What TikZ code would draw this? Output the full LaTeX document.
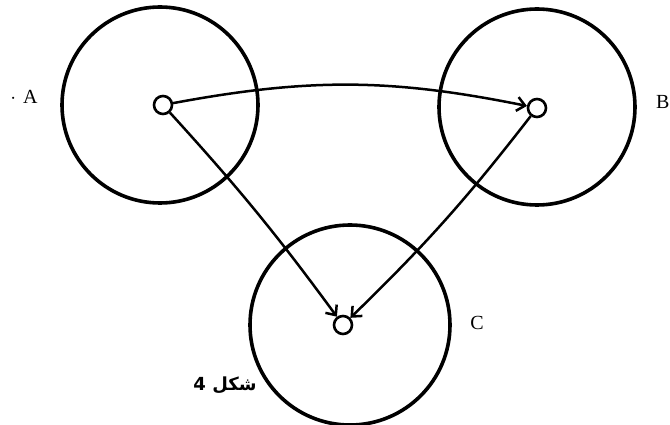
\documentclass[tikz,border=0pt]{standalone}
\usepackage{fontspec}
\setmainfont{Liberation Serif}
\newfontfamily\arabicfont[Script=Arabic]{DejaVu Sans}
\TeXXeTstate=1
\usetikzlibrary{arrows.meta}
\begin{document}
\begin{tikzpicture}[x=1pt,y=-1pt,
  big/.style={circle,draw,line width=3.6pt,minimum size=196pt,inner sep=0pt},
  dot/.style={circle,draw,line width=2.6pt,minimum size=18pt,inner sep=0pt},
  conn/.style={line width=2.5pt,-{Straight Barb[length=8pt,width=14pt,line width=2.5pt]}},
  lbl/.style={font=\fontsize{20}{22}\selectfont,inner sep=0pt}]
\useasboundingbox (0,0) rectangle (670,425);
\node[big] (bA) at (160,105) {};
\node[big] (bB) at (537,107) {};
\node[big,minimum size=200pt] (bC) at (350,325) {};
\node[dot] (a) at (163,105) {};
\node[dot] (b) at (537,108) {};
\node[dot] (c) at (343,325) {};
\node[lbl] (la) at (24,97) {$\cdot$\hspace{7pt}A};
\node[lbl,anchor=west] (lb) at (656,102) {B};
\node[lbl] (lc) at (477,323) {C};
\node[inner sep=0pt] (fig) at (225,385) {\arabicfont\bfseries\fontsize{18}{20}\selectfont\beginR شکل 4\endR};
\draw[conn] (a) to[bend left=11] (b);
\draw[conn] (a) to[bend left=3] (c);
\draw[conn] (b) to[bend left=4] (c);
\end{tikzpicture}
\end{document}
